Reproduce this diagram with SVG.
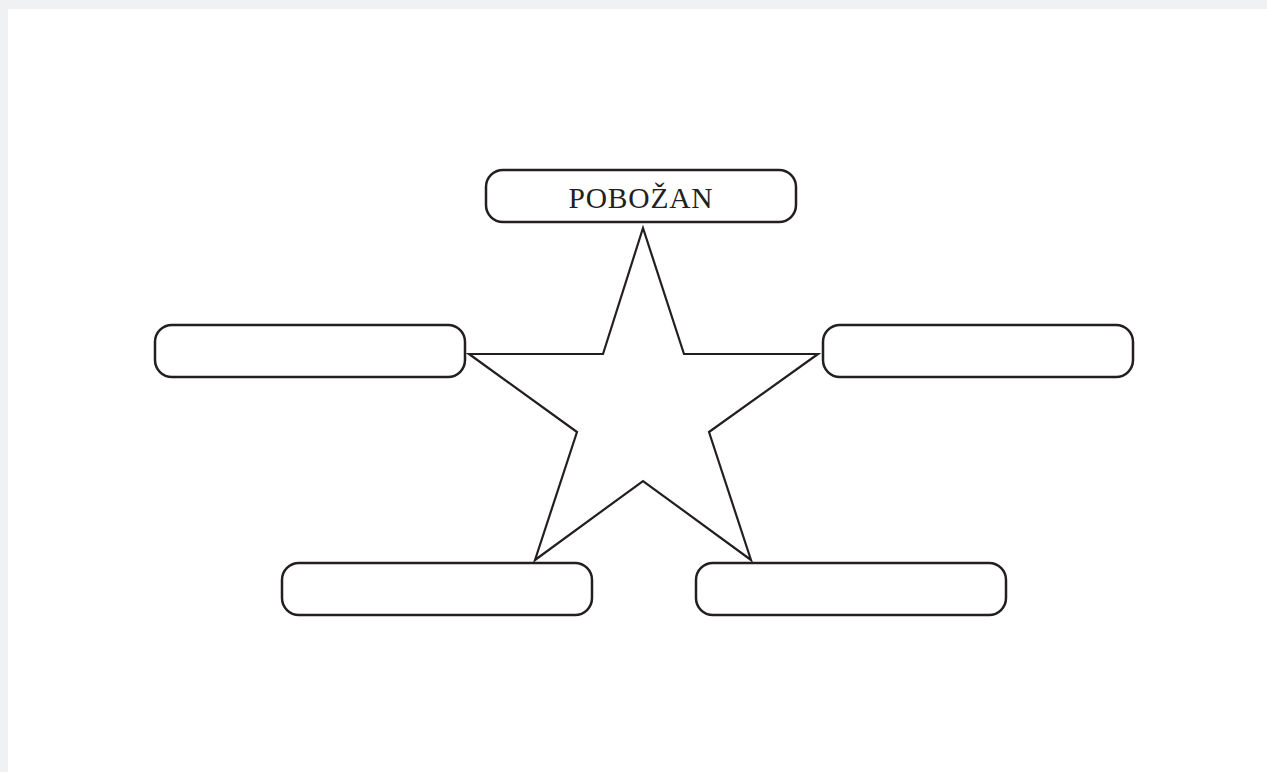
<svg xmlns="http://www.w3.org/2000/svg" width="1267" height="772" viewBox="0 0 1267 772">
<style>
.box{fill:#fff;stroke:#231f20;stroke-width:2.5}
.star{fill:#fff;stroke:#231f20;stroke-width:2.2;stroke-linejoin:miter}
.lbl{font-family:"Liberation Serif",serif;font-size:29.5px;fill:#231f20;text-anchor:middle}
</style>
<rect x="0" y="0" width="1267" height="772" fill="#f0f1f3"/>
<rect x="8" y="9" width="1259" height="763" fill="#fff"/>
<g id="connectors">
<polygon class="star" points="643,228 684,354 818,354 709,432 751,560 643,481 535,560 577,432 469,354 603,354"/>
</g>
<g id="node-top">
<rect class="box" x="486" y="170" width="310" height="52" rx="17"/>
<text class="lbl" x="641" y="208" letter-spacing="0.8">POBOŽAN</text>
</g>
<g id="node-left"><rect class="box" x="155" y="325" width="310" height="52" rx="17"/></g>
<g id="node-right"><rect class="box" x="823" y="325" width="310" height="52" rx="17"/></g>
<g id="node-bottom-left"><rect class="box" x="282" y="563" width="310" height="52" rx="17"/></g>
<g id="node-bottom-right"><rect class="box" x="696" y="563" width="310" height="52" rx="17"/></g>
</svg>
